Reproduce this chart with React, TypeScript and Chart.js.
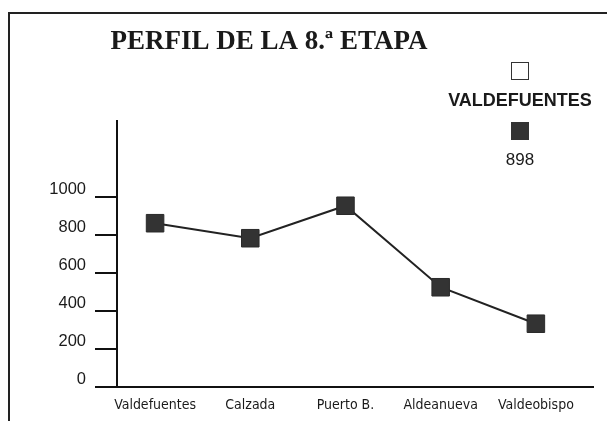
import React, { useEffect, useRef } from "react";
import { Chart, registerables } from "chart.js";

Chart.register(...registerables);

const TITLE = "PERFIL DE LA 8.ª ETAPA";
const categories = ["Valdefuentes", "Calzada", "Puerto B.", "Aldeanueva", "Valdeobispo"];
const altitudes = [862, 783, 954, 525, 333];
const yTicks = [0, 200, 400, 600, 800, 1000];
const legendLabels = ["VALDEFUENTES", "898"];
const legendFills = ["#ffffff", "#333333"];

const decorPlugin = {
  id: "decor",
  beforeDraw(chart: any) {
    const ctx = chart.ctx;
    ctx.save();
    ctx.fillStyle = "#ffffff";
    ctx.fillRect(0, 0, chart.width, chart.height);
    ctx.strokeStyle = "#222222";
    ctx.lineWidth = 2;
    ctx.beginPath();
    ctx.moveTo(9, chart.height);
    ctx.lineTo(9, 13);
    ctx.lineTo(chart.width, 13);
    ctx.stroke();
    // title
    ctx.fillStyle = "#1a1a1a";
    ctx.font = "bold 27px 'Liberation Serif', 'Times New Roman', serif";
    ctx.textAlign = "center";
    ctx.textBaseline = "middle";
    ctx.fillText(TITLE, 269, 42);
    ctx.restore();
  },
  afterDraw(chart: any) {
    const ctx = chart.ctx;
    ctx.save();
    const cx = 520;
    const boxY = [62, 122];
    const textY = [101, 160];
    const fonts = [
      "bold 18px 'Liberation Sans', Arial, sans-serif",
      "17px 'Liberation Sans', Arial, sans-serif",
    ];
    legendLabels.forEach((lbl, i) => {
      ctx.fillStyle = legendFills[i];
      ctx.fillRect(cx - 9, boxY[i], 18, 18);
      ctx.strokeStyle = "#333333";
      ctx.lineWidth = 1;
      ctx.strokeRect(cx - 9 + 0.5, boxY[i] + 0.5, 17, 17);
      ctx.fillStyle = "#1a1a1a";
      ctx.font = fonts[i];
      ctx.textAlign = "center";
      ctx.textBaseline = "middle";
      ctx.fillText(lbl, cx, textY[i]);
    });
    ctx.restore();
  },
};

export default function App() {
  const ref = useRef<HTMLCanvasElement>(null);
  useEffect(() => {
    if (!ref.current) return;
    const chart = new Chart(ref.current, {
      type: "line",
      data: {
        datasets: [
          {
            label: legendLabels[1],
            data: altitudes.map((v, i) => ({ x: i, y: v })),
            borderColor: "#222222",
            borderWidth: 2,
            backgroundColor: "#333333",
            pointStyle: "rect",
            pointRadius: 12.4,
            pointBackgroundColor: "#333333",
            pointBorderColor: "#2a2a2a",
            pointBorderWidth: 1,
            tension: 0,
            clip: false,
          },
        ],
      },
      options: {
        animation: false,
        responsive: false,
        maintainAspectRatio: false,
        layout: { padding: { left: 0, top: 121, right: 14, bottom: 0 } },
        plugins: {
          legend: { display: false },
          title: { display: false },
          tooltip: { enabled: false },
        },
        scales: {
          x: {
            type: "linear",
            min: -0.4,
            max: 4.6,
            afterBuildTicks: (scale: any) => {
              scale.ticks = categories.map((_, i) => ({ value: i }));
            },
            afterFit: (scale: any) => {
              scale.height = 34;
            },
            grid: {
              display: true,
              drawOnChartArea: false,
              drawTicks: false,
              color: "rgba(0,0,0,0)",
            },
            border: { display: true, color: "#111111", width: 2 },
            ticks: {
              autoSkip: false,
              maxRotation: 0,
              padding: 10,
              color: "#1a1a1a",
              font: { family: "'Liberation Sans Narrow', 'Arial Narrow', 'DejaVu Sans Condensed', sans-serif", size: 14 },
              callback: (v: any) => categories[v] ?? "",
            },
          },
          y: {
            type: "linear",
            min: 0,
            max: 1400,
            afterBuildTicks: (scale: any) => {
              scale.ticks = yTicks.map((v) => ({ value: v }));
            },
            afterFit: (scale: any) => {
              scale.width = 117;
            },
            grid: {
              display: true,
              drawOnChartArea: false,
              drawTicks: true,
              tickLength: 22,
              color: "#111111",
              lineWidth: 2,
            },
            border: { display: true, color: "#111111", width: 2 },
            ticks: {
              padding: 9,
              labelOffset: -8,
              color: "#1a1a1a",
              font: { family: "'Liberation Sans', Arial, sans-serif", size: 16.5 },
              callback: (v: any) => String(v),
            },
          },
        },
      },
      plugins: [decorPlugin],
    });
    return () => chart.destroy();
  }, []);
  return (
    <div style={{ position: "fixed", left: 0, top: 0, width: 607, height: 421, background: "#fff" }}>
      <canvas ref={ref} width={607} height={421} style={{ width: 607, height: 421, display: "block" }} />
    </div>
  );
}
